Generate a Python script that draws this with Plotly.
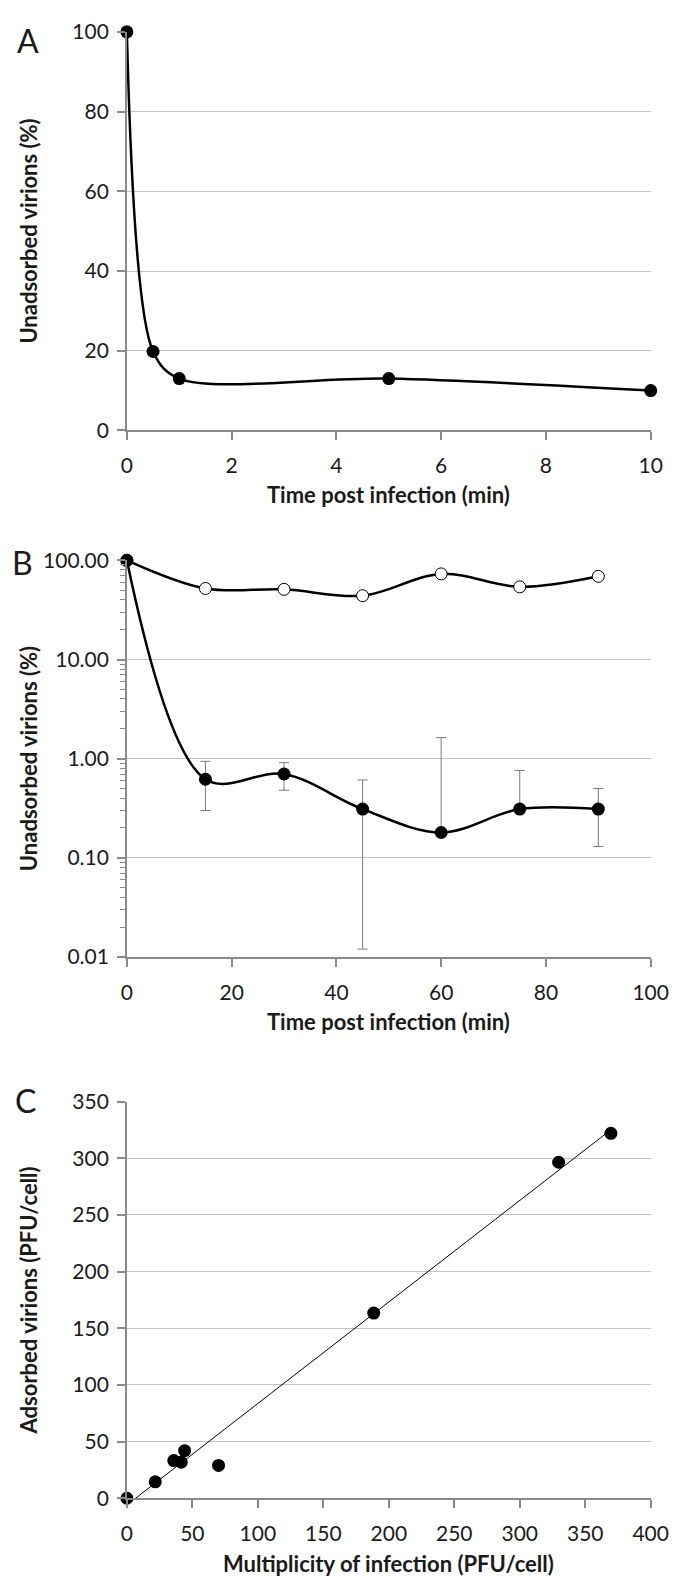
import numpy as np
import plotly.graph_objects as go

# Panel A: unadsorbed virions over the first 10 minutes
time_a = [0, 0.5, 1, 5, 10]
unadsorbed_a = [100, 19.8, 13.0, 13.0, 10.0]

# Panel B: unadsorbed virions over 90 minutes (log scale)
time_b = [0, 15, 30, 45, 60, 75, 90]
unadsorbed_b_filled = [100, 0.62, 0.70, 0.31, 0.18, 0.31, 0.31]
err_plus_b = [0, 0.32, 0.21, 0.30, 1.45, 0.45, 0.19]
err_minus_b = [0, 0.32, 0.22, 0.298, 0, 0, 0.18]
unadsorbed_b_open = [100, 52, 51, 44, 73, 54, 69]

# Panel C: adsorbed virions vs multiplicity of infection
moi_c = [0, 21.7, 35.8, 41.5, 44.1, 70, 188.5, 329.7, 369.6]
adsorbed_c = [0, 14.5, 33.3, 31.8, 42, 29, 163.4, 296.5, 322]

W, H = 680, 1580
FONT = "Lato"
TEXT = "#1a1a1a"
AXIS = "#8a8a8a"
GRID = "#c4c4c4"

# plot areas in pixels: (top, bottom)
X_LEFT, X_RIGHT = 117, 660
PANELS = {"A": (10, 415), "B": (547, 950), "C": (1097, 1500)}


def py(px):
    return 1 - px / H


def px_x(px):
    return px / W


fig = go.Figure()

# --- A ---
fig.add_trace(
    go.Scatter(
        x=time_a, y=unadsorbed_a, mode="lines+markers",
        line=dict(color="black", width=2.5, shape="spline", smoothing=0.9),
        marker=dict(color="black", size=13),
        cliponaxis=False, xaxis="x", yaxis="y",
    )
)

# --- B ---
fig.add_trace(
    go.Scatter(
        x=time_b, y=unadsorbed_b_open, mode="lines+markers",
        line=dict(color="black", width=2.5, shape="spline"),
        marker=dict(color="white", size=12, line=dict(color="black", width=1)),
        cliponaxis=False, xaxis="x2", yaxis="y2",
    )
)
fig.add_trace(
    go.Scatter(
        x=time_b, y=unadsorbed_b_filled, mode="lines+markers",
        line=dict(color="black", width=2.5, shape="spline"),
        marker=dict(color="black", size=13),
        error_y=dict(type="data", array=err_plus_b, arrayminus=err_minus_b,
                     color="#7a7a7a", thickness=1, width=5),
        cliponaxis=False, xaxis="x2", yaxis="y2",
    )
)

# --- C ---
slope, intercept = np.polyfit(moi_c, adsorbed_c, 1)
fit_x = np.array([min(moi_c), max(moi_c)])
fig.add_trace(
    go.Scatter(
        x=fit_x, y=slope * fit_x + intercept, mode="lines",
        line=dict(color="black", width=1), xaxis="x3", yaxis="y3",
    )
)
fig.add_trace(
    go.Scatter(
        x=moi_c, y=adsorbed_c, mode="markers",
        marker=dict(color="black", size=13),
        cliponaxis=False, xaxis="x3", yaxis="y3",
    )
)

tickfont = dict(family=FONT, size=21, color=TEXT)
common = dict(
    showline=True, linecolor=AXIS, linewidth=1.5, ticks="outside", ticklen=8,
    tickcolor=AXIS, tickwidth=1.5, tickfont=tickfont, zeroline=False,
)

layout = dict(
    width=W, height=H, margin=dict(l=0, r=0, t=0, b=0),
    paper_bgcolor="white", plot_bgcolor="white", showlegend=False,
)

x_dom = [px_x(X_LEFT), px_x(X_RIGHT)]
x_specs = {"A": ([0, 10], 2), "B": ([0, 100], 20), "C": ([0, 400], 50)}
for i, key in enumerate(["A", "B", "C"], start=1):
    top, bottom = PANELS[key]
    sfx = "" if i == 1 else str(i)
    rng, dt = x_specs[key]
    layout["xaxis" + sfx] = dict(
        domain=x_dom, range=rng, dtick=dt, anchor="y" + sfx, showgrid=False,
        ticklabelstandoff=8, **common,
    )
    ydict = dict(
        domain=[py(bottom), py(top)], anchor="x" + sfx, showgrid=True,
        gridcolor=GRID, gridwidth=1.3, ticklabelstandoff=4, **common,
    )
    if key == "A":
        ydict.update(range=[0, 100], dtick=20)
    elif key == "B":
        ydict.update(
            type="log", range=[-2, 2], dtick=1, tickformat=".2f",
            minor=dict(ticks="outside", ticklen=5, dtick="D1", tickcolor=AXIS,
                       tickwidth=1, showgrid=False),
        )
    else:
        ydict.update(range=[0, 350], dtick=50)
    layout["yaxis" + sfx] = ydict

fig.update_layout(**layout)

# panel letters
for key, (xp, yp) in {"A": (14, 19), "B": (9, 549), "C": (12, 1096)}.items():
    fig.add_annotation(
        text=key, x=px_x(xp), y=py(yp), xref="paper", yref="paper",
        showarrow=False, font=dict(family=FONT, size=32, color=TEXT),
        xanchor="center", yanchor="middle",
    )

# axis titles
titles_x = [("Time post infection (min)", 480), ("Time post infection (min)", 1016),
            ("Multiplicity of infection (PFU/cell)", 1566)]
for text, yp in titles_x:
    fig.add_annotation(
        text=f"<b>{text}</b>", x=px_x((X_LEFT + X_RIGHT) / 2), y=py(yp),
        xref="paper", yref="paper", showarrow=False,
        font=dict(family=FONT, size=22, color=TEXT), xanchor="center", yanchor="middle",
    )

titles_y = [("Unadsorbed virions (%)", "A"), ("Unadsorbed virions (%)", "B"),
            ("Adsorbed virions (PFU/cell)", "C")]
for text, key in titles_y:
    top, bottom = PANELS[key]
    fig.add_annotation(
        text=f"<b>{text}</b>", x=px_x(15), y=py((top + bottom) / 2),
        xref="paper", yref="paper", showarrow=False, textangle=-90,
        font=dict(family=FONT, size=22, color=TEXT), xanchor="center", yanchor="middle",
    )

fig.write_html("out.html")
